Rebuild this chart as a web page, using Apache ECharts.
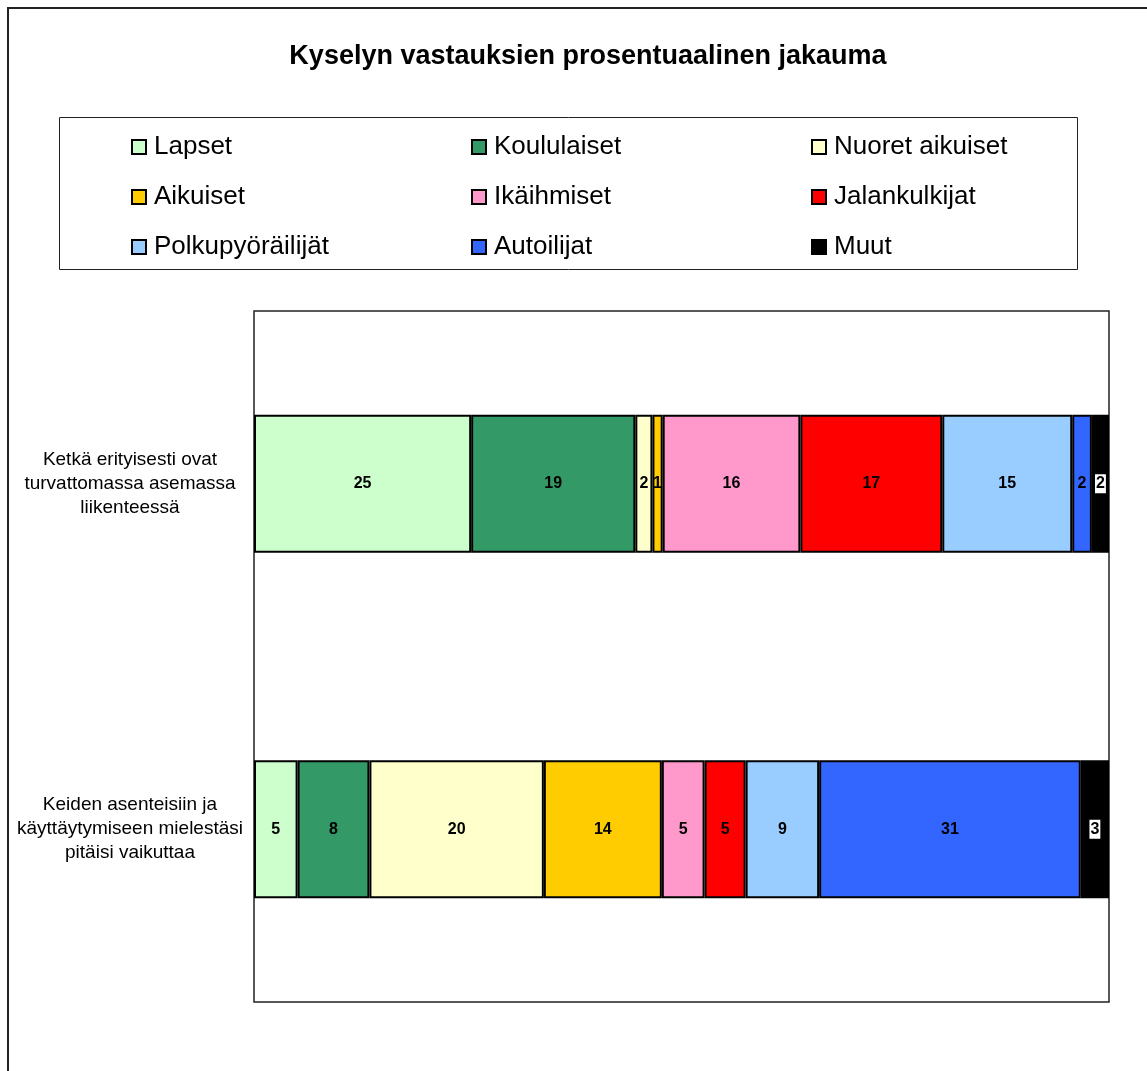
<!DOCTYPE html>
<html><head><meta charset="utf-8">
<script src="https://cdn.jsdelivr.net/npm/echarts@6/dist/echarts.min.js"></script>
<style>html,body{margin:0;padding:0;background:#fff}#c{width:1147px;height:1071px}</style>
</head><body><div id="c"></div>
<script>
const categories = [
  "Ketkä erityisesti ovat\nturvattomassa asemassa\nliikenteessä",
  "Keiden asenteisiin ja\nkäyttäytymiseen mielestäsi\npitäisi vaikuttaa"
];
const seriesNames = ["Lapset","Koululaiset","Nuoret aikuiset","Aikuiset","Ikäihmiset","Jalankulkijat","Polkupyöräilijät","Autoilijat","Muut"];
const lapset = [25.4, 5.1];
const koululaiset = [19.2, 8.4];
const nuoretAikuiset = [2.0, 20.4];
const aikuiset = [1.2, 13.8];
const ikaihmiset = [16.1, 5.0];
const jalankulkijat = [16.6, 4.8];
const polkupyorailijat = [15.2, 8.6];
const autoilijat = [2.3, 30.6];
const muut = [2.0, 3.3];
const seriesValues = [lapset, koululaiset, nuoretAikuiset, aikuiset, ikaihmiset, jalankulkijat, polkupyorailijat, autoilijat, muut];
const colors = ["#CCFFCC","#339966","#FFFFCC","#FFCC00","#FF99CC","#FF0000","#99CCFF","#3366FF","#000000"];

const font = "Arial, 'Liberation Sans', sans-serif";
const chart = echarts.init(document.getElementById('c'), null, {renderer:'canvas'});

const series = seriesNames.map((n,i)=>({
  name:n, type:'bar', stack:'t', barCategoryGap:'60%',
  data: seriesValues[i],
  itemStyle:{color:colors[i], borderColor:'#000', borderWidth:2},
  label:{show:true, position:'inside', color:'#000', fontFamily:font, fontWeight:'bold', fontSize:16,
    formatter:p=>String(Math.round(p.value)),
    backgroundColor: n==='Muut' ? '#fff' : 'transparent',
    padding: n==='Muut' ? [2,1,1,1] : 0},
  emphasis:{disabled:true}
}));

const legendCols = [[0,3,6],[1,4,7],[2,5,8]];
const legendLefts = [126, 466, 806];
const legends = legendCols.map((idx,k)=>({
  data: idx.map(i=>seriesNames[i]),
  orient:'vertical', left:legendLefts[k], top:129, itemGap:24,
  itemWidth:14, itemHeight:14, icon:'rect',
  textStyle:{fontFamily:font, fontSize:26, lineHeight:26, color:'#000', padding:[0,0,0,3]},
  itemStyle:{borderColor:'#000', borderWidth:2}
}));

chart.setOption({
  animation:false,
  backgroundColor:'#fff',
  title:{text:'Kyselyn vastauksien prosentuaalinen jakauma', left:583, top:38, textAlign:'center',
    textStyle:{fontFamily:font, fontSize:27, fontWeight:'bold', color:'#000'}},
  legend: legends,
  graphic:[
    {type:'rect', shape:{x:8,y:8,width:1200,height:1200}, style:{fill:'none', stroke:'#222', lineWidth:2}, silent:true},
    {type:'rect', shape:{x:59.5,y:117.5,width:1018,height:152}, style:{fill:'none', stroke:'#222', lineWidth:1}, silent:true}
  ],
  grid:{left:254, top:311, width:855, height:691, show:true, borderColor:'#222', borderWidth:1.5, backgroundColor:'#fff', outerBoundsMode:'none', containLabel:false},
  xAxis:{type:'value', min:0, max:100, show:false},
  yAxis:{type:'category', inverse:true, data:categories,
    axisLine:{show:false}, axisTick:{show:false}, splitLine:{show:false},
    axisLabel:{align:'center', margin:124, fontFamily:font, fontSize:19, color:'#000', lineHeight:24}},
  series
});
</script></body></html>
